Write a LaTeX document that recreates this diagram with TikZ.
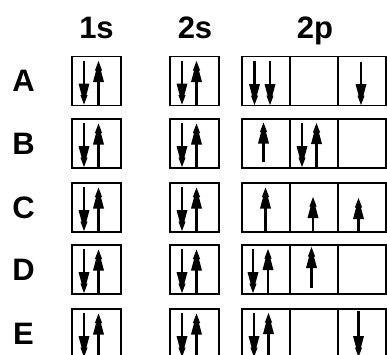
\documentclass[tikz,border=0pt]{standalone}
\usepackage{fontspec}
\setmainfont{Liberation Sans}
\begin{document}
\begin{tikzpicture}[x=1pt,y=-1pt,
  orb/.style={draw=black,line width=1.4pt},
  shaft/.style={line width=2.3pt},
  fir/.pic={\fill[black] (0,0) -- (3.6,9.5) -- (2.4,9.5) -- (5.5,21) -- (-5.5,21) -- (-2.4,9.5) -- (-3.6,9.5) -- cycle;},
  hdr/.style={anchor=base,font=\bfseries\fontsize{31}{31}\selectfont},
  rowlab/.style={anchor=base,font=\bfseries\fontsize{31}{31}\selectfont}]
\newcommand\elup[3]{\draw[shaft] (#1,#2) -- (#1,{#3+12}); \pic at (#1,#3) {fir};}
\newcommand\eldn[3]{\draw[shaft] (#1,#2) -- (#1,{#3-12}); \pic[yscale=-1] at (#1,#3) {fir};}
\useasboundingbox (0,0) rectangle (387,354);
\clip (0,0) rectangle (387,354);
\fill[white] (0,0) rectangle (387,354);
% headers
\node[hdr] (h1s) at (96.5,38.5) {1s};
\node[hdr] (h2s) at (195,38.5) {2s};
\node[hdr] (h2p) at (315,38.5) {2p};
% boxes and filled 1s/2s pairs
\foreach \T/\L in {56.5/A,119/B,183/C,245/D,309/E}{
  \node[rowlab] at (23.5,{\T+35}) {\L};
  \draw[orb] (72,\T) rectangle (121,{\T+49});
  \draw[orb] (170,\T) rectangle (219,{\T+49});
  \draw[orb] (242,\T) rectangle (386,{\T+49});
  \draw[orb] (290,\T) -- (290,{\T+49});
  \draw[orb] (338,\T) -- (338,{\T+49});
  \foreach \X in {72,170}{
    \eldn{\X+12}{\T+4}{\T+48}
    \elup{\X+26.5}{\T+48.5}{\T+4.5}
  }
}
% row A 2p
\eldn{254.5}{60.5}{105}
\eldn{270}{60.5}{105}
\eldn{361}{61.5}{105}
% row B 2p
\elup{263.5}{162}{122.5}
\eldn{302}{123}{167}
\elup{316.5}{167.5}{123}
% row C 2p
\elup{265.5}{231.5}{187.5}
\elup{313}{231.5}{197}
\elup{358.5}{231.5}{198}
% row D 2p
\eldn{253}{249}{293}
\elup{268}{293.5}{249}
\elup{311.5}{288}{247}
% row E 2p
\eldn{254}{313}{357}
\elup{268.5}{357.5}{313}
\eldn{358.5}{311}{357}
\end{tikzpicture}
\end{document}
